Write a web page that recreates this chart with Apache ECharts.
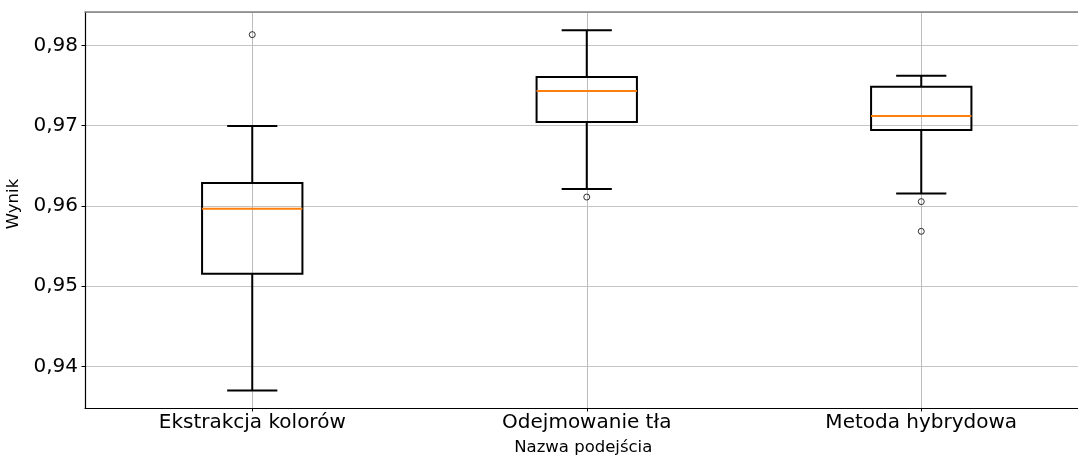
<!DOCTYPE html>
<html>
<head>
<meta charset="utf-8">
<script src="https://cdn.jsdelivr.net/npm/echarts@6/dist/echarts.min.js"></script>
<style>
  html, body { margin: 0; padding: 0; background: #fff; overflow: hidden; }
  /* plot area runs past the right edge of the window, as in the reference */
  #chart { width: 1089px; height: 457px; }
</style>
</head>
<body>
<div id="chart"></div>
<script>
// data
const categories = ['Ekstrakcja kolorów', 'Odejmowanie tła', 'Metoda hybrydowa']
const whiskerLow = [0.9370, 0.9621, 0.96153]
const q1 = [0.95155, 0.97045, 0.96945]
const median = [0.95963, 0.97431, 0.9712]
const q3 = [0.96285, 0.97605, 0.97485]
const whiskerHigh = [0.96995, 0.98187, 0.97622]
const outliers = [[0, 0.98133], [1, 0.9611], [2, 0.96053], [2, 0.95683]]

const boxData = categories.map((c, i) => [i, whiskerLow[i], q1[i], median[i], q3[i], whiskerHigh[i]])

const chart = echarts.init(document.getElementById('chart'))

function renderBox(params, api) {
  const i = api.value(0)
  const band = api.size([1, 0])[0]
  const half = band * 0.3 / 2
  const capHalf = half / 2
  const pLow = api.coord([i, api.value(1)])
  const pQ1 = api.coord([i, api.value(2)])
  const pMed = api.coord([i, api.value(3)])
  const pQ3 = api.coord([i, api.value(4)])
  const pHigh = api.coord([i, api.value(5)])
  const x = pQ1[0]
  const black = { stroke: '#000', lineWidth: 2, fill: null }
  return {
    type: 'group',
    children: [
      { type: 'line', shape: { x1: x, y1: pLow[1], x2: x, y2: pQ1[1] }, style: black },
      { type: 'line', shape: { x1: x, y1: pQ3[1], x2: x, y2: pHigh[1] }, style: black },
      { type: 'line', shape: { x1: x - capHalf, y1: pLow[1], x2: x + capHalf, y2: pLow[1] }, style: black },
      { type: 'line', shape: { x1: x - capHalf, y1: pHigh[1], x2: x + capHalf, y2: pHigh[1] }, style: black },
      { type: 'rect', shape: { x: x - half, y: pQ3[1], width: half * 2, height: pQ1[1] - pQ3[1] }, style: black },
      { type: 'line', shape: { x1: x - half, y1: pMed[1], x2: x + half, y2: pMed[1] }, style: { stroke: '#ff7f0e', lineWidth: 2 } }
    ]
  }
}

const option = {
  animation: false,
  backgroundColor: '#fff',
  textStyle: { fontFamily: 'DejaVu Sans' },
  grid: {
    left: 85,
    right: 0.5,
    top: 12,
    bottom: 49,
    outerBoundsMode: 'none'
  },
  xAxis: [
    {
      type: 'category',
      data: categories,
      name: 'Nazwa podejścia',
      nameLocation: 'middle',
      nameGap: 31,
      nameTextStyle: { fontSize: 16.5, color: '#000', fontFamily: 'DejaVu Sans', padding: [0, 7, 0, 0] },
      axisLine: { lineStyle: { color: '#000', width: 1.2 } },
      axisTick: { show: true, alignWithLabel: true, length: 3.5, lineStyle: { color: '#000' } },
      axisLabel: { fontSize: 20, color: '#000', margin: 5, fontFamily: 'DejaVu Sans' },
      splitLine: { show: true, alignWithLabel: true, lineStyle: { color: '#bdbdbd', width: 1 } }
    },
    {
      // top spine only
      type: 'category',
      data: categories,
      position: 'top',
      axisLine: { lineStyle: { color: '#808080', width: 1.5 } },
      axisTick: { show: false },
      axisLabel: { show: false },
      splitLine: { show: false }
    }
  ],
  yAxis: {
    type: 'value',
    min: 0.93482,
    max: 0.98415,
    splitNumber: 5,
    name: 'Wynik',
    nameLocation: 'middle',
    nameGap: 57,
    nameTextStyle: { fontSize: 16.5, color: '#000', fontFamily: 'DejaVu Sans', padding: [0, 0, 0, 12] },
    axisLine: { show: true, lineStyle: { color: '#000', width: 1.2 } },
    axisTick: { show: true, length: 3.5, lineStyle: { color: '#000' } },
    axisLabel: {
      fontSize: 20,
      color: '#000',
      margin: 7,
      showMinLabel: false,
      showMaxLabel: false,
      fontFamily: 'DejaVu Sans',
      formatter: v => v.toFixed(2).replace('.', ',')
    },
    splitLine: { show: true, lineStyle: { color: '#c4c4c4', width: 1 } }
  },
  series: [
    {
      type: 'custom',
      renderItem: renderBox,
      encode: { x: 0, y: [1, 2, 3, 4, 5] },
      data: boxData,
      z: 3
    },
    {
      type: 'scatter',
      symbol: 'circle',
      symbolSize: 6,
      itemStyle: { color: 'rgba(0,0,0,0)', borderColor: '#000', borderWidth: 1 },
      data: outliers,
      z: 4
    }
  ]
}

chart.setOption(option)
</script>
</body>
</html>
